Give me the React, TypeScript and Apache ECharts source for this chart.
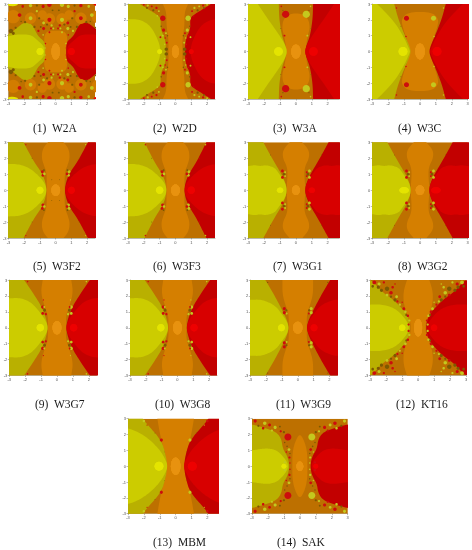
import React, { useEffect, useRef } from "react";
import * as echarts from "echarts";

type Pt = [number, number];
type Dot = [number, number, number, string, number?];

const NAMES = ["W2A", "W2D", "W3A", "W3C", "W3F2", "W3F3", "W3G1", "W3G2", "W3G7", "W3G8", "W3G9", "KT16", "MBM", "SAK"];
const XMAX = [2.5, 2.5, 2.73, 3, 2.5, 2.5, 2.73, 3, 2.5, 2.5, 2.5, 3, 2.71, 3];
const X_TICKS = [[-3,-2,-1,0,1,2],[-3,-2,-1,0,1,2],[-3,-2,-1,0,1,2],[-3,-2,-1,0,1,2,3],[-3,-2,-1,0,1,2],[-3,-2,-1,0,1,2],[-3,-2,-1,0,1,2],[-3,-2,-1,0,1,2,3],[-3,-2,-1,0,1,2],[-3,-2,-1,0,1,2],[-3,-2,-1,0,1,2],[-3,-2,-1,0,1,2,3],[-3,-2,-1,0,1,2],[-3,-2,-1,0,1,2,3]];
const Y_TICKS = [-3, -2, -1, 0, 1, 2, 3];

// Upper-left quarter outlines, in axis units, top to y = 0.
const OLIVE: Pt[][] = [
  [[-3,1.05],[-2.4,1.55],[-2,1.85],[-1.5,1.75],[-1.22,1.15],[-1.05,0.9],[-0.68,0.6],[-0.66,0]],
  [[-2.25,3],[-1.7,2.65],[-1.2,2.35],[-0.92,2.1],[-0.95,1.4],[-0.66,0.85],[-0.58,0]],
  [[-1.08,3],[-1.05,2],[-0.88,0.95],[-0.66,0.4],[-0.58,0]],
  [[-1.62,3],[-1.35,2],[-0.93,0.95],[-0.66,0.35],[-0.58,0]],
  [[-2.05,3],[-1.4,1.8],[-0.93,1.15],[-0.68,0.6],[-0.57,0]],
  [[-1.95,3],[-1.35,1.8],[-0.93,1.15],[-0.66,0.6],[-0.55,0]],
  [[-2.05,3],[-1.45,1.9],[-0.88,0.95],[-0.66,0.45],[-0.57,0]],
  [[-2.05,3],[-1.45,1.9],[-0.88,0.95],[-0.66,0.45],[-0.57,0]],
  [[-2.07,3],[-1.45,2.1],[-0.95,1.3],[-0.68,0.55],[-0.57,0]],
  [[-2.07,3],[-1.45,2.1],[-0.95,1.3],[-0.68,0.55],[-0.57,0]],
  [[-2.05,3],[-1.45,2],[-0.88,0.9],[-0.66,0.42],[-0.57,0]],
  [[-3,3],[-2.8,2.85],[-2.2,2.2],[-1.6,1.8],[-1,1.2],[-0.62,0.7],[-0.47,0]],
  [[-2.05,3],[-1.85,2.7],[-0.9,1.65],[-0.62,0.7],[-0.52,0]],
  [[-3,2.65],[-2.2,2.42],[-1.45,2.15],[-1.15,1.7],[-1.07,1.1],[-0.76,0.6],[-0.65,0]],
];
const BRIGHT: Pt[][] = [
  [[-3,0.95],[-2.5,1.08],[-1.6,1.08],[-1.15,0.7],[-0.76,0.35],[-0.7,0]],
  [[-3,2.05],[-2.2,2.02],[-1.55,1.6],[-1.08,0.7],[-0.92,0]],
  [[-2.4,3],[-1.8,2.1],[-1.3,1.4],[-0.83,0.7],[-0.6,0.2],[-0.58,0]],
  [[-2.7,3],[-1.7,2],[-1.03,0.95],[-0.68,0.15],[-0.62,0]],
  [[-3,1.65],[-2.3,1.62],[-1.65,1.38],[-1.08,0.9],[-0.7,0.45],[-0.57,0]],
  [[-3,1.65],[-2.3,1.62],[-1.65,1.38],[-1.08,0.9],[-0.68,0.45],[-0.55,0]],
  [[-3,1.5],[-2.6,1.58],[-2.25,1.5],[-1.9,1.58],[-1.35,1.42],[-1.15,1.15],[-0.68,0.5],[-0.57,0]],
  [[-3,1.5],[-2.6,1.58],[-2.25,1.5],[-1.9,1.58],[-1.35,1.42],[-1.15,1.15],[-0.68,0.5],[-0.57,0]],
  [[-3,1.85],[-2.3,1.88],[-1.65,1.62],[-1.08,1],[-0.68,0.4],[-0.57,0]],
  [[-3,1.85],[-2.3,1.88],[-1.65,1.62],[-1.08,1],[-0.68,0.4],[-0.57,0]],
  [[-3,1.75],[-2.4,1.78],[-1.88,1.62],[-1.38,1.35],[-0.97,0.8],[-0.68,0.4],[-0.57,0]],
  [[-3,1.45],[-2.3,1.48],[-1.42,1.22],[-0.78,0.55],[-0.52,0]],
  [[-3,2.4],[-2.4,2.18],[-1.67,1.72],[-0.97,1],[-0.58,0.3],[-0.52,0]],
  [[-3,1],[-2.5,1.08],[-2,1.13],[-1.48,1.02],[-1.08,0.65],[-0.82,0.3],[-0.72,0]],
];
const CENTRE: Pt[][] = [
  [[0,1.32],[-0.55,1.3],[-0.74,0.95],[-0.72,0.4],[-0.7,0]],
  [[-0.8,3],[-0.57,2.5],[-0.57,1.6],[-0.44,0.8],[-0.44,0]],
  [[-0.35,2.4],[-0.78,2.08],[-0.88,1.5],[-0.77,1.1],[-0.67,0.6],[-0.6,0]],
  [[-0.7,2.5],[-1.18,2.08],[-1.08,1.5],[-0.87,0.9],[-0.62,0]],
  [[-0.5,3],[-0.83,2.6],[-0.9,2.05],[-0.77,1.6],[-0.57,1.1],[-0.57,0]],
  [[-0.5,3],[-0.83,2.6],[-0.9,2.05],[-0.77,1.6],[-0.57,1.1],[-0.57,0]],
  [[-0.4,3],[-0.83,2.5],[-0.83,2],[-0.57,1.5],[-0.52,1],[-0.6,0]],
  [[-0.4,3],[-0.83,2.5],[-0.83,2],[-0.57,1.5],[-0.52,1],[-0.6,0]],
  [[-0.9,3],[-1.02,2.2],[-0.77,1.3],[-0.57,0.8],[-0.57,0]],
  [[-0.9,3],[-1.02,2.2],[-0.77,1.3],[-0.57,0.8],[-0.57,0]],
  [[-0.97,3],[-0.97,2.1],[-0.77,1.4],[-0.57,0.9],[-0.57,0]],
  [[-0.7,3],[-0.92,2.3],[-0.92,1.6],[-0.72,0.9],[-0.47,0.3],[-0.47,0]],
  [[-1.15,3],[-1.02,2.2],[-0.82,1.3],[-0.62,0.7],[-0.57,0]],
  [[0,2.1],[-0.32,1.5],[-0.47,0.8],[-0.47,0]],
];

// [x, y, x radius, kind, y radius]; kinds: r red, y yellow, d dark, o orange, Y/R glow, c centre.
const CORE: Dot[][] = [
  [[-1,0,0.22,"Y"],[0,0,0.27,"c",0.52]],
  [[-1,0,0.15,"Y"],[0,0,0.22,"c",0.4]],
  [[-1.1,0,0.27,"Y"],[0,0,0.3,"c",0.45]],
  [[-1.07,0,0.28,"Y"],[0,0,0.3,"c",0.5]],
  [[-1,0,0.22,"Y"],[0,0,0.28,"c",0.35]],
  [[-1,0,0.23,"Y"],[0,0,0.28,"c",0.35]],
  [[-1,0,0.2,"Y",0.17],[0,0,0.25,"c",0.3]],
  [[-1,0,0.3,"Y",0.2],[0,0,0.27,"c",0.3]],
  [[-1.05,0,0.23,"Y"],[0,0,0.28,"c",0.42]],
  [[-1.05,0,0.23,"Y"],[0,0,0.28,"c",0.42]],
  [[-1.03,0,0.22,"Y"],[0,0,0.3,"c",0.37]],
  [[-1,0,0.2,"Y"],[0,0,0.25,"c",0.55]],
  [[-1.05,0,0.28,"Y"],[0,0,0.3,"c",0.55]],
  [[-1,0,0.15,"Y"],[0,0,0.22,"c",0.3]],
];

const SPECKS: Dot[][] = [
  [[-2.7,2.2,0.42,"o"],[-2.75,3,0.35,"Y",0.14],[-1.6,2.1,0.36,"o"],[-0.4,2.05,0.36,"o"],[-0.85,2.3,0.3,"o"],
   [-2.3,2.3,0.12,"r"],[-1.6,2.1,0.12,"y"],[-0.4,2,0.13,"r"],[-0.4,2.95,0.14,"r"],[-0.8,2.85,0.1,"r"],[-1.6,2.9,0.11,"y"],
   [-0.77,1.8,0.09,"y"],[-0.77,1.45,0.1,"r"],[-1.1,1.3,0.07,"r"],[-0.26,1.65,0.07,"y"],[-0.15,1.45,0.06,"y"],[-0.3,1.45,0.06,"r"],
   [-0.4,1.22,0.06,"r"],[-0.8,1.05,0.05,"y"],[-0.65,0.5,0.05,"r"],[-0.68,0.22,0.05,"y"],[-1.2,2.55,0.07,"y"],[-2.1,2.85,0.08,"r"],
   [-2.85,1.3,0.14,"d"],[-2.7,1.15,0.1,"d"],[-2.55,1.5,0.07,"d"],[-1.95,1.85,0.07,"d"],[-1.35,1.55,0.07,"d"],[-1.05,2.1,0.07,"d"],[-1.2,2.9,0.07,"d"],[-0.55,1.7,0.07,"d"],[-0.95,1.55,0.06,"d"],[-0.2,2.6,0.06,"d"],[-2.2,1.9,0.05,"d"]],
  [[-2,2.95,0.06,"r"],[-1.75,2.9,0.07,"y"],[-1.5,2.85,0.06,"r"],[-1.2,2.75,0.07,"r"],[-1.05,2.55,0.06,"y"],[-1.4,2.6,0.07,"d"],[-1.8,2.75,0.06,"d"],
   [-0.8,2.1,0.17,"r"],[-1.15,2.25,0.05,"y"],[-0.75,1.35,0.1,"r"],[-0.6,1.15,0.06,"y"],[-0.8,1,0.06,"y"],[-0.95,0.9,0.06,"r"],[-0.65,0.85,0.05,"r"],
   [-0.55,0.55,0.06,"r"],[-0.58,0.15,0.11,"d"],[-0.68,0.45,0.05,"y"],[-0.5,1.0,0.05,"d"],[-0.9,1.6,0.05,"d"]],
  [[-0.65,2.35,0.23,"r"],[-0.72,1,0.06,"r"],[-0.92,2.85,0.05,"r"],[-0.82,2.6,0.04,"d"],[-0.95,1.45,0.03,"d"]],
  [[-0.85,2.1,0.16,"r"],[-0.88,0.95,0.05,"r"],[-1.48,2.75,0.05,"r"],[-1.2,1.6,0.03,"d"]],
  [[-0.85,1.15,0.09,"r"],[-0.82,0.93,0.09,"r"],[-0.75,1.25,0.06,"d"],[-0.72,1.02,0.08,"y"],[-0.25,0.65,0.03,"d"],[-1.9,2.85,0.04,"r"],[-1.5,2,0.03,"d"]],
  [[-0.85,1.15,0.09,"r"],[-0.82,0.93,0.09,"r"],[-0.75,1.25,0.06,"d"],[-0.72,1.02,0.08,"y"],[-1.9,2.85,0.05,"r"],[-1.5,2,0.03,"d"]],
  [[-0.85,1.2,0.09,"r"],[-0.85,0.8,0.09,"r"],[-0.75,1,0.09,"d"],[-0.68,1.12,0.06,"y"],[-0.68,0.88,0.06,"y"],[-1.6,2.2,0.03,"d"]],
  [[-0.85,1.2,0.09,"r"],[-0.85,0.8,0.09,"r"],[-0.75,1,0.09,"d"],[-0.68,1.12,0.06,"y"],[-0.68,0.88,0.06,"y"],[-1.6,2.2,0.03,"d"]],
  [[-0.9,1.3,0.1,"r"],[-0.9,0.9,0.09,"r"],[-0.7,0.85,0.07,"r"],[-0.78,1.1,0.09,"d"],[-0.8,1.3,0.06,"y"],[-1.85,2.9,0.05,"r"],[-0.85,1.75,0.04,"r"]],
  [[-0.9,1.3,0.1,"r"],[-0.9,0.9,0.09,"r"],[-0.7,0.85,0.07,"r"],[-0.78,1.1,0.09,"d"],[-0.8,1.3,0.06,"y"],[-1.85,2.9,0.05,"r"],[-0.85,1.75,0.04,"r"]],
  [[-0.85,1.2,0.1,"r"],[-0.85,0.95,0.1,"r"],[-0.72,1.1,0.07,"d"],[-0.7,0.9,0.06,"y"],[-1.9,2.85,0.04,"d"]],
  [[-2.75,2.85,0.12,"r"],[-2.45,2.75,0.1,"y"],[-2.5,2.55,0.1,"d"],[-2.15,2.85,0.07,"r"],[-1.95,2.45,0.14,"d"],[-1.7,2.2,0.11,"r"],[-1.95,2.05,0.09,"y"],[-1.6,2.55,0.08,"r"],[-1.45,2.75,0.05,"r"],
   [-1.35,1.95,0.09,"y"],[-1.3,1.65,0.07,"r"],[-1.45,1.75,0.1,"d"],[-1.15,1.45,0.07,"y"],[-1.0,1.6,0.05,"r"],[-0.9,1.2,0.09,"r"],[-0.8,1,0.08,"y"],[-0.65,0.75,0.08,"r"],[-0.55,0.45,0.07,"y"],[-0.6,0.2,0.07,"r"],[-0.75,0.8,0.06,"d"],[-2.3,2.35,0.1,"d"],[-2.85,2.6,0.08,"d"],[-1.7,1.95,0.07,"d"]],
  [[-0.9,1.65,0.1,"r"],[-2,2.85,0.08,"y"],[-1.8,2.6,0.04,"r"],[-1.3,2.1,0.03,"d"],[-0.7,0.9,0.02,"d"]],
  [[-0.75,1.85,0.22,"r"],[-2.8,2.85,0.1,"r"],[-2.2,2.72,0.11,"y"],[-1.9,2.6,0.09,"r"],[-2.3,2.4,0.08,"r"],[-1.55,2.45,0.1,"y"],[-1.2,2.2,0.07,"r"],[-1,2.15,0.07,"d"],[-2.6,2.55,0.07,"d"],[-1.75,2.25,0.07,"y"],[-1.25,2.5,0.06,"d"],
   [-0.68,1.05,0.09,"y"],[-0.65,0.55,0.07,"r"],[-0.85,0.9,0.05,"r"],[-0.95,0.25,0.07,"y"],[-0.62,0.2,0.05,"r"],[-0.95,1.5,0.05,"d"],[-0.8,1.25,0.05,"d"],[-0.62,0.8,0.05,"d"]],
];

const COLORS: Record<string, string> = {
  bg: "#bd7000", centre: "#d57f00", olive: "#b9b000", yellow: "#cccc00", darkRed: "#c20000", red: "#d80000",
  r: "#cc0d0d", y: "#c4c81e", d: "#7d5a00", o: "#d27c00", Y: "#e4e400", R: "#ee0000", c: "#e8920f",
};
const SWAP: Record<string, string> = { r: "y", y: "r", Y: "R", R: "Y", d: "d", o: "o", c: "c" };

// Plot frames: [left, right, top, bottom] in px.
const FRAMES = [
  [8,95,4,99],[128,215,4,99],[248.3,339.3,4,99],[372.3,467.7,4,99],
  [8,95,142.3,238],[128,215,142.3,238],[248.3,339.3,142.3,238],[372.3,467.7,142.3,238],
  [9.3,96.7,280,375.5],[130,217,280,375.5],[250.3,337.3,280,375.5],[370.3,466,280,375.5],
  [128,218.7,418.7,513.7],[252,347.7,418.7,513.7],
];
const CAPTIONS = [[55,127.5],[175,127.5],[295,127.5],[420,127.5],[55,266],[175,266],[295,266],[420,266],[57,403.5],[177,403.5],[298,403.5],[418,403.5],[175,541.5],[299,541.5]];

function dedup(p: Pt[]): Pt[] {
  return p.filter((q, i) => i === 0 || q[0] !== p[i - 1][0] || q[1] !== p[i - 1][1]);
}
// Rounds the outline's corners for drawing; the corners themselves are the values.
function rounded(p: Pt[]): Pt[] {
  let cur = p;
  for (let k = 0; k < 3; k++) {
    const next: Pt[] = [];
    cur.forEach((a, i) => {
      const b = cur[(i + 1) % cur.length];
      next.push([a[0] * 0.75 + b[0] * 0.25, a[1] * 0.75 + b[1] * 0.25]);
      next.push([a[0] * 0.25 + b[0] * 0.75, a[1] * 0.25 + b[1] * 0.75]);
    });
    cur = next;
  }
  return cur;
}
function extended(q: Pt[]): Pt[] {
  const [a, b] = q;
  return [[a[0] - (b[0] - a[0]) * 0.5 - (a[0] <= -3 ? 0.5 : 0), a[1] + (a[1] - b[1]) * 0.5], ...q];
}
function leftShape(q: Pt[]): Pt[] {
  const top = extended(q);
  const low = top.slice().reverse().map(([x, y]) => [x, -y] as Pt);
  return rounded(dedup([[-5, top[0][1]], ...top, ...low, [-5, -top[0][1]]]));
}
function flipX(p: Pt[]): Pt[] {
  return p.map(([x, y]) => [-x, y] as Pt);
}
function centreShape(q: Pt[]): Pt[] {
  const top = q[0][1] >= 3 ? extended(q) : q;
  const low = top.slice().reverse().map(([x, y]) => [x, -y] as Pt);
  const left = dedup([...top, ...low]);
  const right = left.slice().reverse().map(([x, y]) => [-x, y] as Pt);
  const all = dedup([...left, ...right]);
  const a = all[0], z = all[all.length - 1];
  return rounded(a[0] === z[0] && a[1] === z[1] ? all.slice(0, -1) : all);
}

function panelItems(i: number) {
  const xMax = XMAX[i];
  const polys: { pts: Pt[]; fill: string }[] = [
    { pts: [[-3, 3], [xMax, 3], [xMax, -3], [-3, -3]], fill: COLORS.bg },
    { pts: centreShape(CENTRE[i]), fill: COLORS.centre },
    { pts: leftShape(OLIVE[i]), fill: COLORS.olive },
    { pts: leftShape(BRIGHT[i]), fill: COLORS.yellow },
    { pts: flipX(leftShape(OLIVE[i])), fill: COLORS.darkRed },
    { pts: flipX(leftShape(BRIGHT[i])), fill: COLORS.red },
  ];
  const dots: { x: number; y: number; rx: number; ry: number; fill: string }[] = [];
  const order = [...CORE[i], ...SPECKS[i]];
  const sorted = order.filter((d) => d[3] === "o").concat(order.filter((d) => d[3] !== "o"));
  for (const [x, y, r, k, ry] of sorted) {
    const rr = ry ?? r;
    dots.push({ x, y, rx: r, ry: rr, fill: COLORS[k] });
    dots.push({ x, y: -y, rx: r, ry: rr, fill: COLORS[k] });
    dots.push({ x: -x, y, rx: r, ry: rr, fill: COLORS[SWAP[k]] });
    dots.push({ x: -x, y: -y, rx: r, ry: rr, fill: COLORS[SWAP[k]] });
  }
  return { polys, dots };
}

function buildOption() {
  const grid: any[] = [], xAxis: any[] = [], yAxis: any[] = [], series: any[] = [], graphic: any[] = [];
  const axisBase = {
    axisLine: { show: true, onZero: false, lineStyle: { color: "#8a8a70", width: 0.6 } },
    axisTick: { show: true, length: 1.5, lineStyle: { color: "#777", width: 0.5 } },
    splitLine: { show: false },
  };
  NAMES.forEach((name, i) => {
    const [l, r, t, b] = FRAMES[i];
    grid.push({ left: l, top: t, width: r - l, height: b - t, containLabel: false });
    xAxis.push({
      ...axisBase, type: "value", gridIndex: i, min: -3, max: XMAX[i], position: "bottom",
      axisTick: { ...axisBase.axisTick, customValues: X_TICKS[i] },
      axisLabel: { customValues: X_TICKS[i], fontSize: 4, color: "#555", margin: 2, fontFamily: "Liberation Sans" },
    });
    yAxis.push({
      ...axisBase, type: "value", gridIndex: i, min: -3, max: 3, position: "left",
      axisTick: { ...axisBase.axisTick, customValues: Y_TICKS },
      axisLabel: { customValues: Y_TICKS, fontSize: 4, color: "#555", margin: 2, fontFamily: "Liberation Sans" },
    });
    const { polys, dots } = panelItems(i);
    series.push({
      type: "custom", xAxisIndex: i, yAxisIndex: i, clip: true, silent: true, coordinateSystem: "cartesian2d",
      data: polys.map((p) => p.pts[0]),
      renderItem: (params: any, api: any) => {
        const p = polys[params.dataIndex];
        return { type: "polygon", shape: { points: p.pts.map((q) => api.coord(q)) }, style: { fill: p.fill } };
      },
    });
    series.push({
      type: "custom", xAxisIndex: i, yAxisIndex: i, clip: true, silent: true, coordinateSystem: "cartesian2d",
      data: dots.map((d) => [d.x, d.y]),
      renderItem: (params: any, api: any) => {
        const d = dots[params.dataIndex];
        const c = api.coord([d.x, d.y]);
        const s = api.size([d.rx, d.ry]);
        return { type: "ellipse", shape: { cx: c[0], cy: c[1], rx: s[0], ry: s[1] }, style: { fill: d.fill } };
      },
    });
    graphic.push({
      type: "text", left: CAPTIONS[i][0] - 22, top: CAPTIONS[i][1] - 6, silent: true,
      style: { text: `(${i + 1})  ${name}`, font: "11.5px 'Liberation Serif'", fill: "#1a1a1a", width: 44 },
    });
  });
  return { animation: false, backgroundColor: "#ffffff", grid, xAxis, yAxis, series, graphic };
}

export default function App() {
  const ref = useRef<HTMLDivElement>(null);
  useEffect(() => {
    const chart = echarts.init(ref.current!, null, { renderer: "svg" });
    chart.setOption(buildOption() as any);
    return () => chart.dispose();
  }, []);
  return <div ref={ref} style={{ position: "fixed", left: 0, top: 0, width: 472, height: 550, filter: "blur(0.35px)" }} />;
}
